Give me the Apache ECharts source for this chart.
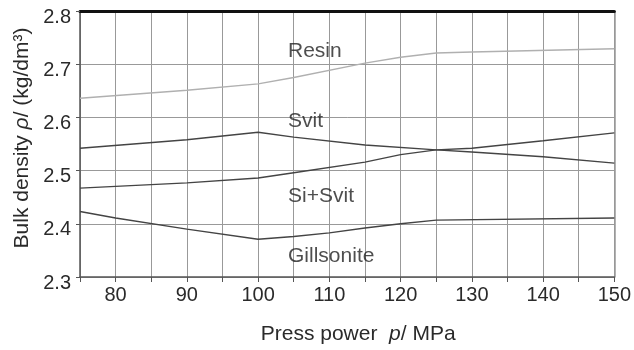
<!DOCTYPE html>
<html>
<head>
<meta charset="utf-8">
<script src="https://cdn.jsdelivr.net/npm/echarts@6/dist/echarts.min.js"></script>
<style>html,body{margin:0;padding:0;background:#fff}#c{width:634px;height:350px}</style>
</head>
<body>
<div id="c"></div>
<script>
var seriesNames = ['Resin', 'Svit', 'Si+Svit', 'Gillsonite'];
var resin = [[75, 2.636], [90, 2.651], [100, 2.663], [105, 2.675], [115, 2.702], [120, 2.713], [125, 2.721], [130, 2.723], [150, 2.729]];
var svit = [[75, 2.542], [90, 2.558], [100, 2.572], [105, 2.563], [115, 2.548], [125, 2.539], [130, 2.535], [140, 2.526], [150, 2.514]];
var siSvit = [[75, 2.467], [90, 2.477], [100, 2.486], [105, 2.496], [115, 2.516], [120, 2.530], [125, 2.539], [130, 2.542], [140, 2.556], [150, 2.571]];
var gillsonite = [[75, 2.423], [80, 2.411], [90, 2.390], [100, 2.371], [105, 2.376], [110, 2.383], [115, 2.392], [120, 2.400], [125, 2.407], [150, 2.411]];
var labelPos = [[104.2, 2.724], [104.2, 2.592], [104.2, 2.452], [104.2, 2.339]];
var lineColors = ['#b0b0b0', '#444444', '#444444', '#444444'];
var xTickLabels = [80, 90, 100, 110, 120, 130, 140, 150];

var FONT = 'Liberation Sans, Arial, sans-serif';
var allData = [resin, svit, siSvit, gillsonite];

var series = allData.map(function (d, i) {
  return {
    name: seriesNames[i],
    type: 'line',
    data: d,
    symbol: 'none',
    lineStyle: { color: lineColors[i], width: 1.4 },
    z: 3
  };
});
series.push({
  type: 'scatter',
  symbolSize: 0,
  data: labelPos.map(function (p, i) { return { value: p, name: seriesNames[i] }; }),
  label: {
    show: true, position: 'right', distance: 0,
    formatter: function (p) { return p.name; },
    color: '#222', fontSize: 21, fontFamily: FONT
  },
  z: 4
});

var chart = echarts.init(document.getElementById('c'));
chart.setOption({
  animation: false,
  backgroundColor: '#fff',
  grid: { left: 80, right: 12, top: 11, bottom: 73, containLabel: false },
  xAxis: [{
    type: 'value', min: 75, max: 150, interval: 5,
    axisLine: { show: true, lineStyle: { color: '#555', width: 1.5 } },
    axisTick: { show: true, length: 5, lineStyle: { color: '#555' } },
    splitLine: { show: true, lineStyle: { color: '#999', width: 1 } },
    axisLabel: {
      color: '#2a2a2a', fontSize: 20, fontFamily: FONT, margin: 8,
      alignMaxLabel: 'center', alignMinLabel: 'center', hideOverlap: false,
      formatter: function (v) { return xTickLabels.indexOf(v) >= 0 ? String(v) : ''; }
    },
    name: 'Press power  {i|p}/ MPa',
    nameLocation: 'middle', nameGap: 47,
    nameTextStyle: {
      color: '#2a2a2a', fontSize: 21, fontFamily: FONT, padding: [0, 0, 0, 22],
      rich: { i: { fontStyle: 'italic', fontSize: 21, fontFamily: FONT, color: '#2a2a2a' } }
    }
  }, {
    type: 'value', min: 75, max: 150, position: 'top',
    axisLine: { show: true, lineStyle: { color: '#111', width: 3 } },
    axisTick: { show: false }, axisLabel: { show: false }, splitLine: { show: false }
  }],
  yAxis: [{
    type: 'value', min: 2.3, max: 2.8, interval: 0.1,
    axisLine: { show: true, lineStyle: { color: '#555', width: 1.5 } },
    axisTick: { show: true, length: 4, lineStyle: { color: '#555' } },
    splitLine: { show: true, lineStyle: { color: '#999', width: 1 } },
    axisLabel: {
      color: '#2a2a2a', fontSize: 20, fontFamily: FONT, margin: 9,
      formatter: function (v) { return '{a|' + v.toFixed(1) + '}'; },
      rich: { a: { color: '#2a2a2a', fontSize: 20, fontFamily: FONT, padding: [12, 0, 0, 0] } }
    },
    name: 'Bulk density {i|ρ}/ (kg/dm³)',
    nameLocation: 'middle', nameGap: 45,
    nameTextStyle: {
      color: '#2a2a2a', fontSize: 21, fontFamily: FONT, padding: [0, 0, 0, 12],
      rich: { i: { fontStyle: 'italic', fontSize: 21, fontFamily: FONT, color: '#2a2a2a' } }
    }
  }, {
    type: 'value', min: 2.3, max: 2.8, position: 'right',
    axisLine: { show: true, lineStyle: { color: '#999', width: 1.5 } },
    axisTick: { show: false }, axisLabel: { show: false }, splitLine: { show: false }
  }],
  series: series
});
</script>
</body>
</html>
